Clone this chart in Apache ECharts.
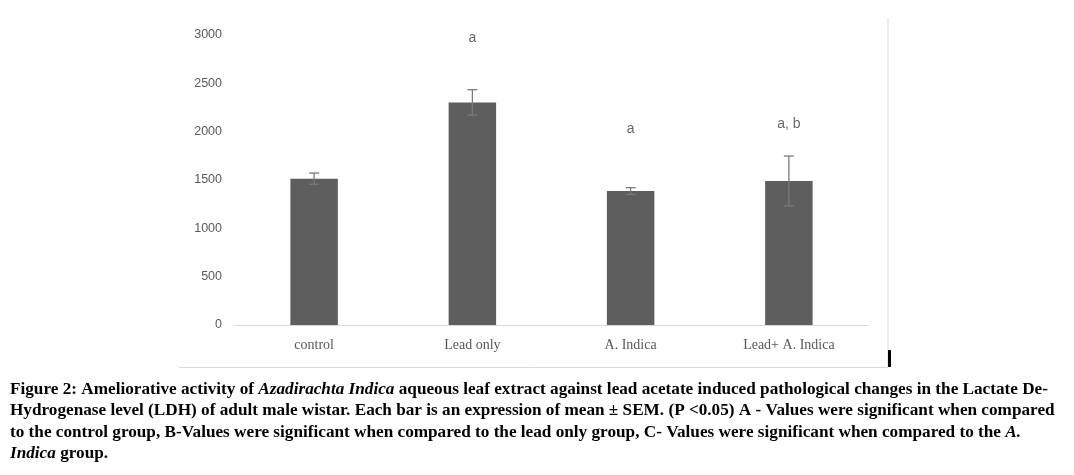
<!DOCTYPE html>
<html><head><meta charset="utf-8">
<script src="https://cdn.jsdelivr.net/npm/echarts@6/dist/echarts.min.js"></script>
<style>html,body{margin:0;padding:0;background:#fff}#c{width:1074px;height:475px}</style>
</head><body><div id="c"></div>
<script>
const categories = ['control', 'Lead only', 'A. Indica', 'Lead+ A. Indica'];
const meanLDH = [1514, 2303, 1386, 1490];
const semLDH = [58, 131, 35, 258];
const sigLabels = ['', 'a', 'a', 'a, b'];
const sigLabelY = [null, 2966, 2024, 2079];
const yTicks = [0, 500, 1000, 1500, 2000, 2500, 3000];

const chart = echarts.init(document.getElementById('c'));
const capFont = 'bold 17.2px "Liberation Serif", serif';
function capLine(y, parts) {
  let txt = '';
  parts.forEach(p => { txt += p[1] ? '{i|' + p[0] + '}' : '{b|' + p[0] + '}'; });
  return {
    type: 'text', left: 10, top: y,
    style: {
      text: txt, fill: '#000',
      rich: {
        b: { font: capFont, fill: '#000' },
        i: { font: 'italic ' + capFont, fill: '#000' }
      }
    }
  };
}
chart.setOption({
  animation: false,
  grid: { left: 235, right: 206, top: 35, bottom: 150, containLabel: false },
  xAxis: {
    type: 'category', data: categories,
    axisLine: { lineStyle: { color: '#d9d9d9' } },
    axisTick: { show: false },
    axisLabel: { color: '#595959', fontFamily: '"Liberation Serif", serif', fontSize: 14, margin: 13 }
  },
  yAxis: {
    type: 'value', min: yTicks[0], max: yTicks[yTicks.length - 1], interval: yTicks[1] - yTicks[0],
    axisLine: { show: false }, axisTick: { show: false }, splitLine: { show: false },
    axisLabel: { color: '#595959', fontFamily: '"Liberation Sans", sans-serif', fontSize: 12.5, margin: 13,
      formatter: v => String(v) }
  },
  series: [
    {
      type: 'bar', data: meanLDH, barWidth: '30%',
      itemStyle: { color: '#5e5e5e' }
    },
    {
      type: 'custom',
      data: meanLDH.map((m, i) => [i, m + semLDH[i], m - semLDH[i]]),
      renderItem: function (params, api) {
        const x = api.value(0);
        const hi = api.coord([x, api.value(1)]);
        const lo = api.coord([x, api.value(2)]);
        const w = 5;
        const st = { stroke: '#7a7a7a', lineWidth: 1.3 };
        return {
          type: 'group', children: [
            { type: 'line', shape: { x1: hi[0], y1: hi[1], x2: lo[0], y2: lo[1] }, style: st },
            { type: 'line', shape: { x1: hi[0] - w, y1: hi[1], x2: hi[0] + w, y2: hi[1] }, style: st },
            { type: 'line', shape: { x1: lo[0] - w, y1: lo[1], x2: lo[0] + w, y2: lo[1] }, style: st }
          ]
        };
      },
      z: 5
    },
    {
      type: 'scatter', symbolSize: 0,
      data: sigLabelY.map((v, i) => [i, v]),
      label: {
        show: true, position: 'inside',
        formatter: p => sigLabels[p.dataIndex],
        color: '#404040', fontFamily: '"Liberation Sans", sans-serif', fontSize: 14
      }
    }
  ],
  graphic: [
    { type: 'line', shape: { x1: 888, y1: 18, x2: 888, y2: 367 }, style: { stroke: '#d9d9d9', lineWidth: 1 } },
    { type: 'line', shape: { x1: 179, y1: 367.5, x2: 888, y2: 367.5 }, style: { stroke: '#d9d9d9', lineWidth: 1 } },
    { type: 'rect', shape: { x: 888, y: 350, width: 3, height: 17 }, style: { fill: '#000' } },
    capLine(381, [['Figure 2: Ameliorative activity of '], ['Azadirachta Indica', 1], [' aqueous leaf extract against lead acetate induced pathological changes in the Lactate De-']]),
    capLine(402.5, [['Hydrogenase level (LDH) of adult male wistar. Each bar is an expression of mean \u00b1 SEM. (P <0.05) A - Values were significant when compared']]),
    capLine(424, [['to the control group, B-Values were significant when compared to the lead only group, C- Values were significant when compared to the '], ['A.', 1]]),
    capLine(445, [['Indica', 1], [' group.']])
  ]
});
</script></body></html>
